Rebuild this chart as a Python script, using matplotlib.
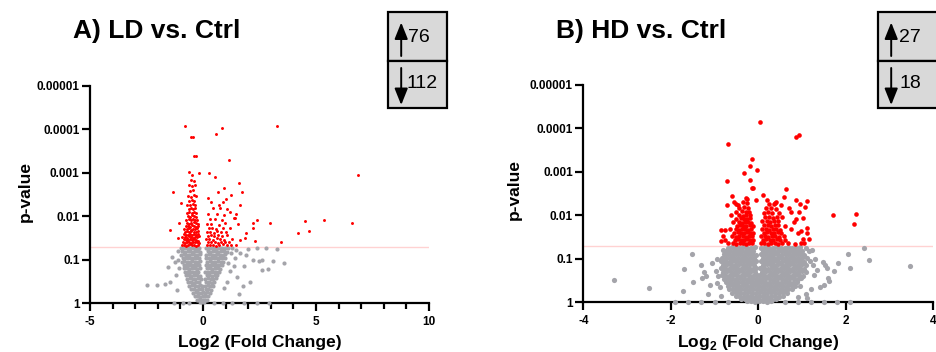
import numpy as np
import matplotlib
matplotlib.use("Agg")
import matplotlib.pyplot as plt
from matplotlib.ticker import FixedLocator, FixedFormatter, MultipleLocator, NullLocator
from matplotlib.patches import Rectangle, FancyArrowPatch

plt.rcParams['font.family'] = ['Liberation Sans', 'DejaVu Sans']
plt.rcParams['axes.unicode_minus'] = False
plt.rcParams['mathtext.fontset'] = 'custom'
plt.rcParams['mathtext.rm'] = 'Liberation Sans:bold'
plt.rcParams['mathtext.bf'] = 'Liberation Sans:bold'

# ---------------- data (log2 fold change, -log10 p-value) ----------------
titles = ["A) LD vs. Ctrl", "B) HD vs. Ctrl"]
xlabels = ["Log2 (Fold Change)", r"Log$_\mathbf{2}$ (Fold Change)"]
up_counts = [76, 27]
down_counts = [112, 18]
p_threshold = 0.05
y_ticks = [1, 0.1, 0.01, 0.001, 0.0001, 0.00001]
y_ticklabels = ["1", "0.1", "0.01", "0.001", "0.0001", "0.00001"]
a_xticks = [-5, 0, 5, 10]
b_xticks = [-4, -2, 0, 2, 4]

# Panel A: significant (red)
a_sig_out = [(-0.81,4.07),(-0.52,3.83),(-0.46,3.82),(-0.41,3.39),(-0.31,3.39),(0.56,3.89),(0.82,4.03),
             (3.27,4.08),(1.15,3.29),(6.84,2.95),(-0.64,3.02),(-0.49,2.95),(-0.19,2.99),(0.28,2.99),(0.54,2.9),
             (-1.31,2.55),(1.58,2.76),(1.71,2.56),(0.94,2.64),(1.25,2.49),(1.65,2.26),(0.65,2.56),(0.23,2.42),
             (0.73,2.27),(1.4,1.95),(2.39,1.91),(2.2,1.84),(2.98,1.84),(2.2,1.72),(4.5,1.89),(5.35,1.91),
             (6.59,1.85),(4.2,1.62),(4.67,1.66),(3.46,1.42),(2.3,1.44),(1.84,1.51),(-1.48,1.68),(1.2,2.1),
             (1.9,1.62),(1.55,1.82),(1.62,1.45),(-1.1,1.5),(-1.05,1.85),(-0.98,2.3),(1.45,2.05),(1.0,2.4)]
a_sig_left = [(-0.95,1.33),(-0.84,1.35),(-0.75,1.32),(-0.66,1.34),(-0.57,1.36),(-0.48,1.33),(-0.39,1.35),(-0.30,1.32),(-0.21,1.34),
              (-0.90,1.41),(-0.80,1.39),(-0.71,1.42),(-0.62,1.40),(-0.53,1.38),(-0.44,1.41),(-0.35,1.40),(-0.26,1.42),(-0.17,1.39),
              (-0.86,1.47),(-0.76,1.45),(-0.67,1.46),(-0.58,1.48),(-0.49,1.45),(-0.40,1.47),(-0.31,1.46),(-0.22,1.44),
              (-0.92,1.52),(-0.81,1.53),(-0.72,1.51),(-0.63,1.54),(-0.54,1.52),(-0.45,1.50),(-0.36,1.53),(-0.27,1.52),(-0.18,1.54),
              (-0.85,1.59),(-0.74,1.57),(-0.65,1.58),(-0.56,1.60),(-0.47,1.57),(-0.38,1.59),(-0.29,1.58),(-0.20,1.60),
              (-0.79,1.64),(-0.69,1.65),(-0.60,1.63),(-0.51,1.66),(-0.42,1.64),(-0.33,1.63),(-0.24,1.65),
              (-0.83,1.71),(-0.72,1.70),(-0.63,1.72),(-0.54,1.69),(-0.45,1.71),(-0.36,1.70),(-0.27,1.72),
              (-0.76,1.77),(-0.66,1.78),(-0.57,1.76),(-0.48,1.79),(-0.39,1.77),(-0.30,1.76),(-0.21,1.78),
              (-0.70,1.85),(-0.60,1.83),(-0.51,1.84),(-0.42,1.86),(-0.33,1.84),(-0.24,1.83),
              (-0.74,1.92),(-0.63,1.93),(-0.54,1.91),(-0.45,1.94),(-0.36,1.92),(-0.27,1.91),
              (-0.68,2.01),(-0.57,1.99),(-0.48,2.02),(-0.38,2.00),(-0.29,1.98),
              (-0.72,2.08),(-0.60,2.09),(-0.50,2.07),(-0.41,2.10),(-0.31,2.08),
              (-0.64,2.17),(-0.53,2.18),(-0.44,2.16),(-0.34,2.19),
              (-0.69,2.27),(-0.57,2.25),(-0.46,2.28),(-0.36,2.26),
              (-0.61,2.36),(-0.49,2.38),(-0.38,2.35),
              (-0.66,2.47),(-0.54,2.45),(-0.42,2.48),(-0.30,2.46),
              (-0.58,2.58),(-0.46,2.60),(-0.63,2.71),(-0.50,2.69),(-0.35,2.72),(-0.55,2.83),(-0.42,2.81)]
a_sig_right = [(0.16,1.34),(0.30,1.33),(0.45,1.35),(0.58,1.32),(0.72,1.34),(0.88,1.36),(1.05,1.33),(1.22,1.35),(1.45,1.34),
               (0.22,1.41),(0.37,1.40),(0.52,1.42),(0.66,1.39),(0.80,1.41),(0.97,1.40),(1.15,1.42),
               (0.14,1.47),(0.28,1.48),(0.43,1.46),(0.60,1.49),(0.75,1.47),(0.92,1.46),(1.30,1.48),
               (0.20,1.55),(0.35,1.56),(0.50,1.54),(0.68,1.57),(0.85,1.55),(1.08,1.56),
               (0.17,1.63),(0.32,1.64),(0.47,1.62),(0.62,1.65),(0.78,1.63),(1.00,1.64),
               (0.25,1.72),(0.40,1.73),(0.56,1.71),(0.90,1.74),(1.18,1.72),
               (0.19,1.82),(0.36,1.83),(0.70,1.81),(0.98,1.84),
               (0.30,1.93),(0.55,1.94),(0.82,1.92),(1.35,1.95),
               (0.24,2.05),(0.62,2.06),(0.95,2.04),(0.44,2.18),(0.75,2.19),(1.08,2.17),(0.35,2.32),(0.88,2.33)]
# Panel A: not significant (grey)
a_ns_left = [(-0.97,1.27),(-0.84,1.28),(-0.73,1.26),(-0.62,1.28),(-0.51,1.27),(-0.40,1.26),(-0.29,1.28),(-0.18,1.27),
             (-0.93,1.20),(-0.80,1.19),(-0.68,1.21),(-0.57,1.20),(-0.45,1.19),(-0.34,1.21),(-0.22,1.20),(-0.13,1.19),
             (-0.96,1.12),(-0.86,1.13),(-0.74,1.11),(-0.61,1.12),(-0.49,1.13),(-0.37,1.11),(-0.26,1.12),(-0.15,1.13),
             (-0.90,1.04),(-0.78,1.05),(-0.66,1.03),(-0.54,1.04),(-0.42,1.05),(-0.31,1.03),(-0.19,1.04),
             (-0.93,0.96),(-0.82,0.97),(-0.70,0.95),(-0.58,0.96),(-0.47,0.97),(-0.35,0.95),(-0.24,0.96),(-0.13,0.97),
             (-0.86,0.88),(-0.74,0.89),(-0.62,0.87),(-0.51,0.88),(-0.39,0.89),(-0.28,0.87),(-0.16,0.88),
             (-0.84,0.80),(-0.71,0.81),(-0.60,0.79),(-0.48,0.80),(-0.36,0.81),(-0.25,0.79),(-0.12,0.80),
             (-0.80,0.72),(-0.67,0.73),(-0.55,0.71),(-0.43,0.72),(-0.31,0.73),(-0.20,0.71),
             (-0.76,0.64),(-0.64,0.65),(-0.52,0.63),(-0.40,0.64),(-0.28,0.65),(-0.15,0.63),
             (-0.70,0.56),(-0.58,0.57),(-0.46,0.55),(-0.34,0.56),(-0.22,0.57),(-0.10,0.55),
             (-0.66,0.48),(-0.53,0.49),(-0.41,0.47),(-0.29,0.48),(-0.17,0.49),
             (-0.60,0.40),(-0.48,0.41),(-0.36,0.39),(-0.24,0.40),(-0.12,0.41),(-0.03,0.39),
             (-0.52,0.32),(-0.40,0.33),(-0.28,0.31),(-0.16,0.32),(-0.05,0.33),
             (-0.44,0.24),(-0.32,0.25),(-0.20,0.23),(-0.08,0.24),(0.02,0.25),
             (-0.36,0.16),(-0.24,0.17),(-0.12,0.15),(0.00,0.16),
             (-0.26,0.08),(-0.14,0.09),(-0.02,0.07),(0.08,0.08),(-0.15,0.02),(-0.04,0.03),(0.06,0.02)]
a_ns_right = [(0.14,1.27),(0.26,1.28),(0.38,1.26),(0.50,1.28),(0.62,1.27),(0.74,1.26),(0.86,1.28),(0.98,1.27),(1.10,1.26),
              (0.20,1.20),(0.32,1.19),(0.44,1.21),(0.56,1.20),(0.68,1.19),(0.80,1.21),(0.92,1.20),(1.04,1.19),
              (0.15,1.12),(0.27,1.13),(0.39,1.11),(0.51,1.12),(0.63,1.13),(0.75,1.11),(0.87,1.12),(0.99,1.13),
              (0.13,1.04),(0.25,1.05),(0.37,1.03),(0.49,1.04),(0.61,1.05),(0.73,1.03),(0.85,1.04),(0.96,1.05),
              (0.18,0.96),(0.30,0.97),(0.42,0.95),(0.54,0.96),(0.66,0.97),(0.78,0.95),(0.90,0.96),
              (0.12,0.88),(0.24,0.89),(0.36,0.87),(0.48,0.88),(0.60,0.89),(0.72,0.87),(0.84,0.88),
              (0.17,0.80),(0.29,0.81),(0.41,0.79),(0.53,0.80),(0.65,0.81),(0.77,0.79),
              (0.11,0.72),(0.23,0.73),(0.35,0.71),(0.47,0.72),(0.59,0.73),(0.71,0.71),
              (0.16,0.64),(0.28,0.65),(0.40,0.63),(0.52,0.64),(0.64,0.65),
              (0.10,0.56),(0.22,0.57),(0.34,0.55),(0.46,0.56),(0.58,0.57),
              (0.14,0.48),(0.26,0.49),(0.38,0.47),(0.50,0.48),
              (0.08,0.40),(0.20,0.41),(0.32,0.39),(0.44,0.40),
              (0.12,0.32),(0.24,0.33),(0.36,0.31),(0.07,0.24),(0.18,0.25),(0.29,0.23),
              (0.11,0.16),(0.22,0.17),(0.17,0.08)]
a_ns_out = [(-2.48,0.41),(-2.03,0.43),(-1.66,0.44),(-1.55,0.84),(-1.37,1.07),(-1.44,0.49),(-1.20,0.65),(-1.25,0.95),
            (-1.10,1.20),(-1.15,0.30),(-1.05,0.80),(-1.12,1.00),(1.25,1.15),(1.40,1.05),(1.65,1.15),(1.90,1.10),
            (2.20,1.00),(2.60,0.99),(3.10,0.98),(3.57,0.92),(3.27,1.25),(2.80,1.27),(2.46,0.97),(2.88,0.79),
            (2.60,0.77),(2.06,0.50),(1.75,0.40),(1.50,0.60),(1.20,0.75),(1.35,0.85),(1.05,0.50),(1.45,1.22),
            (2.00,1.25),(2.40,1.28),(1.80,0.85),(0.95,0.35),(1.60,0.22),(1.10,0.92),(1.28,1.28)]
a_ns_edge = [(-1.3,0.004),(-0.9,0.004),(-0.6,0.004),(0.5,0.004),(0.9,0.004),(1.3,0.004),(1.8,0.004),(2.4,0.004),(2.9,0.004)]

# Panel B: significant (red)
b_sig_out = [(0.04,4.16),(0.86,3.80),(0.94,3.84),(-0.69,3.64),(-0.15,3.30),(-0.20,3.14),(-0.04,3.04),(-0.72,2.79),
             (-0.33,2.97),(-0.19,2.81),(-0.15,2.64),(-0.12,2.63),(0.63,2.61),(0.10,2.47),(-0.61,2.44),(-0.50,2.26),
             (-0.46,2.25),(-0.28,2.40),(-0.26,2.38),(-0.05,2.36),(0.19,2.35),(0.40,2.31),(0.38,2.28),(0.58,2.43),
             (0.86,2.36),(1.12,2.34),(0.95,2.27),(0.70,2.16),(1.06,2.19),(1.71,2.01),(2.23,2.03),(2.19,1.80),
             (-0.71,2.23),(-0.86,1.66),(-0.76,1.66),(0.98,1.63),(1.12,1.60),(0.94,2.07),(0.86,1.91),(1.12,1.72),
             (-0.75,1.44),(-0.86,1.40),(1.02,1.45),(0.98,1.36)]
b_sig_left = [(-0.70,1.36),(-0.58,1.37),(-0.50,1.35),(-0.42,1.36),(-0.35,1.37),(-0.28,1.35),(-0.21,1.36),(-0.14,1.37),
              (-0.54,1.44),(-0.46,1.45),(-0.39,1.43),(-0.32,1.44),(-0.25,1.45),(-0.18,1.43),(-0.11,1.44),
              (-0.80,1.52),(-0.60,1.53),(-0.50,1.51),(-0.43,1.52),(-0.36,1.53),(-0.29,1.51),(-0.22,1.52),(-0.15,1.53),
              (-0.55,1.60),(-0.47,1.61),(-0.40,1.59),(-0.33,1.60),(-0.26,1.61),(-0.19,1.59),(-0.12,1.60),
              (-0.64,1.68),(-0.52,1.69),(-0.44,1.67),(-0.37,1.68),(-0.30,1.69),(-0.23,1.67),(-0.16,1.68),
              (-0.48,1.76),(-0.41,1.77),(-0.34,1.75),(-0.27,1.76),(-0.20,1.77),(-0.13,1.75),
              (-0.58,1.84),(-0.45,1.85),(-0.37,1.83),(-0.30,1.84),(-0.23,1.85),(-0.16,1.83),
              (-0.50,1.92),(-0.40,1.93),(-0.33,1.91),(-0.26,1.92),(-0.19,1.93),
              (-0.63,2.00),(-0.44,2.01),(-0.35,1.99),(-0.27,2.00),(-0.20,2.01),
              (-0.52,2.08),(-0.38,2.09),(-0.29,2.07),(-0.22,2.08),
              (-0.45,2.18),(-0.32,2.19),(-0.24,2.17),(-0.55,2.30),(-0.36,2.31),(-0.25,2.29)]
b_sig_right = [(0.06,1.36),(0.14,1.37),(0.22,1.35),(0.30,1.36),(0.38,1.37),(0.46,1.35),(0.55,1.36),(0.68,1.37),(0.85,1.35),(1.05,1.36),
               (0.10,1.44),(0.18,1.45),(0.26,1.43),(0.34,1.44),(0.42,1.45),(0.50,1.43),(0.62,1.44),(1.15,1.45),
               (0.07,1.52),(0.15,1.53),(0.23,1.51),(0.31,1.52),(0.39,1.53),(0.47,1.51),(0.58,1.52),
               (0.12,1.60),(0.20,1.61),(0.28,1.59),(0.36,1.60),(0.44,1.61),(0.53,1.59),(0.90,1.60),
               (0.09,1.68),(0.17,1.69),(0.25,1.67),(0.33,1.68),(0.41,1.69),(0.50,1.67),(0.75,1.68),
               (0.14,1.77),(0.22,1.78),(0.30,1.76),(0.38,1.77),(0.46,1.78),(0.60,1.76),
               (0.08,1.86),(0.19,1.87),(0.27,1.85),(0.35,1.86),(0.44,1.87),(0.82,1.85),
               (0.16,1.96),(0.25,1.97),(0.33,1.95),(0.42,1.96),(0.55,1.97),(1.02,1.95),
               (0.12,2.06),(0.22,2.07),(0.31,2.05),(0.48,2.06),(0.75,2.07),
               (0.18,2.16),(0.28,2.17),(0.40,2.15),(0.24,2.26),(0.36,2.27),(0.52,2.25)]
# Panel B: not significant (grey)
b_ns_main = [(-0.70,1.26),(-0.61,1.27),(-0.52,1.25),(-0.43,1.26),(-0.34,1.27),(-0.25,1.25),(-0.16,1.26),(-0.07,1.27),
             (0.06,1.26),(0.15,1.27),(0.24,1.25),(0.33,1.26),(0.42,1.27),(0.51,1.25),(0.60,1.26),(0.69,1.27),(0.78,1.25),(0.87,1.26),(0.96,1.27),(1.08,1.25),
             (-0.74,1.18),(-0.65,1.19),(-0.56,1.17),(-0.47,1.18),(-0.38,1.19),(-0.29,1.17),(-0.20,1.18),(-0.11,1.19),
             (0.10,1.18),(0.19,1.19),(0.28,1.17),(0.37,1.18),(0.46,1.19),(0.55,1.17),(0.64,1.18),(0.73,1.19),(0.82,1.17),(0.91,1.18),(1.00,1.19),(1.15,1.17),
             (-0.78,1.10),(-0.69,1.11),(-0.60,1.09),(-0.51,1.10),(-0.42,1.11),(-0.33,1.09),(-0.24,1.10),(-0.15,1.11),(-0.06,1.09),
             (0.06,1.10),(0.15,1.11),(0.24,1.09),(0.33,1.10),(0.42,1.11),(0.51,1.09),(0.60,1.10),(0.69,1.11),(0.78,1.09),(0.87,1.10),(0.96,1.11),(1.05,1.09),
             (-0.82,1.02),(-0.73,1.03),(-0.64,1.01),(-0.55,1.02),(-0.46,1.03),(-0.37,1.01),(-0.28,1.02),(-0.19,1.03),(-0.10,1.01),
             (0.10,1.02),(0.19,1.03),(0.28,1.01),(0.37,1.02),(0.46,1.03),(0.55,1.01),(0.64,1.02),(0.73,1.03),(0.82,1.01),(0.91,1.02),(1.00,1.03),(1.12,1.01),
             (-0.86,0.94),(-0.77,0.95),(-0.68,0.93),(-0.59,0.94),(-0.50,0.95),(-0.41,0.93),(-0.32,0.94),(-0.23,0.95),(-0.14,0.93),(-0.05,0.94),
             (0.06,0.94),(0.15,0.95),(0.24,0.93),(0.33,0.94),(0.42,0.95),(0.51,0.93),(0.60,0.94),(0.69,0.95),(0.78,0.93),(0.87,0.94),(0.96,0.95),(1.05,0.93),(1.18,0.94),
             (-0.81,0.86),(-0.72,0.87),(-0.63,0.85),(-0.54,0.86),(-0.45,0.87),(-0.36,0.85),(-0.27,0.86),(-0.18,0.87),(-0.09,0.85),
             (0.10,0.86),(0.19,0.87),(0.28,0.85),(0.37,0.86),(0.46,0.87),(0.55,0.85),(0.64,0.86),(0.73,0.87),(0.82,0.85),(0.91,0.86),(1.00,0.87),(1.10,0.85),
             (-0.85,0.78),(-0.76,0.79),(-0.67,0.77),(-0.58,0.78),(-0.49,0.79),(-0.40,0.77),(-0.31,0.78),(-0.22,0.79),(-0.13,0.77),(-0.05,0.78),
             (0.05,0.78),(0.14,0.79),(0.23,0.77),(0.32,0.78),(0.41,0.79),(0.50,0.77),(0.59,0.78),(0.68,0.79),(0.77,0.77),(0.86,0.78),(0.95,0.79),(1.04,0.77),
             (-0.80,0.70),(-0.71,0.71),(-0.62,0.69),(-0.53,0.70),(-0.44,0.71),(-0.35,0.69),(-0.26,0.70),(-0.17,0.71),(-0.08,0.69),
             (0.09,0.70),(0.18,0.71),(0.27,0.69),(0.36,0.70),(0.45,0.71),(0.54,0.69),(0.63,0.70),(0.72,0.71),(0.81,0.69),(0.90,0.70),(0.99,0.71),(1.10,0.69),
             (-0.84,0.62),(-0.75,0.63),(-0.66,0.61),(-0.57,0.62),(-0.48,0.63),(-0.39,0.61),(-0.30,0.62),(-0.21,0.63),(-0.12,0.61),(-0.04,0.62),
             (0.04,0.62),(0.13,0.63),(0.22,0.61),(0.31,0.62),(0.40,0.63),(0.49,0.61),(0.58,0.62),(0.67,0.63),(0.76,0.61),(0.85,0.62),(0.94,0.63),(1.03,0.61),
             (-0.78,0.54),(-0.69,0.55),(-0.60,0.53),(-0.51,0.54),(-0.42,0.55),(-0.33,0.53),(-0.24,0.54),(-0.15,0.55),(-0.06,0.53),(0.02,0.54),
             (0.09,0.54),(0.18,0.55),(0.27,0.53),(0.36,0.54),(0.45,0.55),(0.54,0.53),(0.63,0.54),(0.72,0.55),(0.81,0.53),(0.90,0.54),(0.98,0.55),
             (-0.74,0.46),(-0.65,0.47),(-0.56,0.45),(-0.47,0.46),(-0.38,0.47),(-0.29,0.45),(-0.20,0.46),(-0.11,0.47),(-0.02,0.45),
             (0.07,0.46),(0.16,0.47),(0.25,0.45),(0.34,0.46),(0.43,0.47),(0.52,0.45),(0.61,0.46),(0.70,0.47),(0.79,0.45),(0.88,0.46),
             (-0.70,0.38),(-0.61,0.39),(-0.52,0.37),(-0.43,0.38),(-0.34,0.39),(-0.25,0.37),(-0.16,0.38),(-0.07,0.39),(0.02,0.37),
             (0.11,0.38),(0.20,0.39),(0.29,0.37),(0.38,0.38),(0.47,0.39),(0.56,0.37),(0.65,0.38),(0.74,0.39),(0.83,0.37),(0.95,0.38),
             (-0.66,0.30),(-0.57,0.31),(-0.48,0.29),(-0.39,0.30),(-0.30,0.31),(-0.21,0.29),(-0.12,0.30),(-0.03,0.31),(0.06,0.29),
             (0.15,0.30),(0.24,0.31),(0.33,0.29),(0.42,0.30),(0.51,0.31),(0.60,0.29),(0.69,0.30),(0.78,0.31),
             (-0.60,0.22),(-0.51,0.23),(-0.42,0.21),(-0.33,0.22),(-0.24,0.23),(-0.15,0.21),(-0.06,0.22),(0.03,0.23),
             (0.12,0.21),(0.21,0.22),(0.30,0.23),(0.39,0.21),(0.48,0.22),(0.57,0.23),(0.66,0.21),
             (-0.52,0.14),(-0.43,0.15),(-0.34,0.13),(-0.25,0.14),(-0.16,0.15),(-0.07,0.13),(0.02,0.14),(0.11,0.15),
             (0.20,0.13),(0.29,0.14),(0.38,0.15),(0.47,0.13),(0.56,0.14),
             (-0.40,0.07),(-0.31,0.08),(-0.22,0.06),(-0.13,0.07),(-0.04,0.08),(0.05,0.06),(0.14,0.07),(0.23,0.08),(0.32,0.06),(0.41,0.07),
             (-0.26,0.02),(-0.17,0.02),(-0.08,0.01),(0.01,0.02),(0.10,0.02),(0.19,0.01),(0.28,0.02)]
b_ns_out = [(-3.29,0.51),(-2.49,0.32),(-1.71,0.27),(-1.70,0.77),(-1.52,1.10),(-1.50,0.46),(-1.30,0.85),(-1.25,0.70),
            (-1.20,0.60),(-1.28,0.55),(-1.15,0.20),(-0.95,1.00),(-0.97,0.72),(-0.93,0.60),(-0.95,0.45),(-0.80,1.20),
            (-0.88,0.35),(-1.05,0.90),(-1.10,0.40),(-0.85,0.15),(3.47,0.84),(2.42,1.26),(2.54,0.97),(2.04,1.10),
            (2.10,0.80),(1.83,0.91),(1.73,0.73),(1.48,0.93),(1.52,0.85),(1.57,0.80),(1.60,0.55),(1.62,0.48),
            (1.50,0.40),(1.27,0.62),(1.12,0.10),(1.30,1.00),(1.25,0.85),(1.35,0.75),(1.20,0.30),(1.22,1.20),
            (1.40,0.35),(1.10,0.20),(0.90,0.12)]
b_ns_edge = [(-1.9,0.004),(-1.6,0.004),(-1.3,0.004),(-1.0,0.004),(-0.7,0.004),(0.6,0.004),(0.9,0.004),(1.2,0.004),(1.5,0.004),(1.8,0.004),(2.1,0.004)]

RED = '#ff0000'
GREY = '#a4a4aa'
W, H = 937, 352


def to_xy(pts):
    arr = np.array(pts, dtype=float)
    return arr[:, 0], np.power(10.0, -arr[:, 1])


fig = plt.figure(figsize=(W / 100, H / 100), dpi=100)
axA = fig.add_axes([90 / W, 48.7 / H, (429 - 90) / W, (303.3 - 85.7) / H])
axB = fig.add_axes([583.3 / W, 49.7 / H, (933.3 - 583.3) / W, (302.3 - 85) / H])

panels = [
    (axA, [a_ns_left, a_ns_right, a_ns_out, a_ns_edge], [a_sig_left, a_sig_right, a_sig_out], (-5, 10), a_xticks, 9.0, 4.5),
    (axB, [b_ns_main, b_ns_out, b_ns_edge], [b_sig_left, b_sig_right, b_sig_out], (-4, 4), b_xticks, 14.0, 11.0),
]

for ax, ns_sets, sig_sets, xl, xt, s_ns, s_sig in panels:
    ax.set_yscale('log')
    ax.set_xlim(*xl)
    ax.set_ylim(1, 1e-5)
    ax.axhline(p_threshold, color='#ffd2d2', lw=1.0, zorder=1)
    for pts in ns_sets:
        x, p = to_xy(pts)
        ax.scatter(x, p, s=s_ns, c=GREY, linewidths=0, zorder=2, clip_on=False)
    for pts in sig_sets:
        x, p = to_xy(pts)
        ax.scatter(x, p, s=s_sig, c=RED, linewidths=0, zorder=3, clip_on=False)
    for side in ['top', 'right']:
        ax.spines[side].set_visible(False)
    for side in ['left', 'bottom']:
        ax.spines[side].set_linewidth(1.6)
        ax.spines[side].set_zorder(1.5)
    ax.yaxis.set_major_locator(FixedLocator(y_ticks))
    ax.yaxis.set_major_formatter(FixedFormatter(y_ticklabels))
    ax.yaxis.set_minor_locator(NullLocator())
    ax.xaxis.set_major_locator(FixedLocator(xt))
    ax.set_xticklabels([str(v) for v in xt])
    ax.tick_params(axis='both', which='major', direction='out', length=6, width=1.6,
                   labelsize=8.5, pad=1.5)
    ax.tick_params(axis='x', which='major', pad=3)
    for lab in ax.get_xticklabels() + ax.get_yticklabels():
        lab.set_fontweight('bold')
    ax.patch.set_alpha(0)

axA.xaxis.set_minor_locator(MultipleLocator(1))
axA.tick_params(axis='x', which='minor', direction='out', length=4, width=1.6)
axB.xaxis.set_minor_locator(NullLocator())

# titles
fig.text(73 / W, 1 - 37.7 / H, titles[0], fontsize=19, fontweight='bold', ha='left', va='baseline')
fig.text(556 / W, 1 - 37.7 / H, titles[1], fontsize=19, fontweight='bold', ha='left', va='baseline')

# axis labels
fig.text(25 / W, 1 - 191.7 / H, "p-value", rotation=90, fontsize=12.5, fontweight='bold', ha='center', va='center')
fig.text(514 / W, 1 - 189 / H, "p-value", rotation=90, fontsize=12.5, fontweight='bold', ha='center', va='center')
fig.text(260 / W, 1 - 346.5 / H, xlabels[0], fontsize=12.5, fontweight='bold', ha='center', va='baseline')
fig.text(758.3 / W, 1 - 346.5 / H, xlabels[1], fontsize=12.5, fontweight='bold', ha='center', va='baseline')

# count boxes (up / down)
boxes = [(388.3, 446.7, 401.2, 408.5, 407, up_counts[0], down_counts[0]),
         (878, 962, 891.2, 899.5, 899.5, up_counts[1], down_counts[1])]
for bx0, bx1, arx, tx_up, tx_dn, nup, ndown in boxes:
    for (yt, yb) in [(11.7, 61), (61, 108.3)]:
        fig.add_artist(Rectangle((bx0 / W, 1 - yb / H), (bx1 - bx0) / W, (yb - yt) / H,
                                 transform=fig.transFigure, facecolor='#d9d9d9',
                                 edgecolor='black', linewidth=1.6, zorder=5))
    for (y_tail, y_tip) in [(56, 22.5), (68, 105)]:
        fig.add_artist(FancyArrowPatch((arx / W, 1 - y_tail / H), (arx / W, 1 - y_tip / H),
                                       transform=fig.transFigure,
                                       arrowstyle='-|>,head_width=0.4,head_length=1.0',
                                       mutation_scale=10, lw=1.4, color='black',
                                       shrinkA=0, shrinkB=0, zorder=6))
    fig.text(tx_up / W, 1 - 38 / H, str(nup), fontsize=14, ha='left', va='center', zorder=7)
    fig.text(tx_dn / W, 1 - 84 / H, str(ndown), fontsize=14, ha='left', va='center', zorder=7)

fig.savefig('out.png', dpi=100)
